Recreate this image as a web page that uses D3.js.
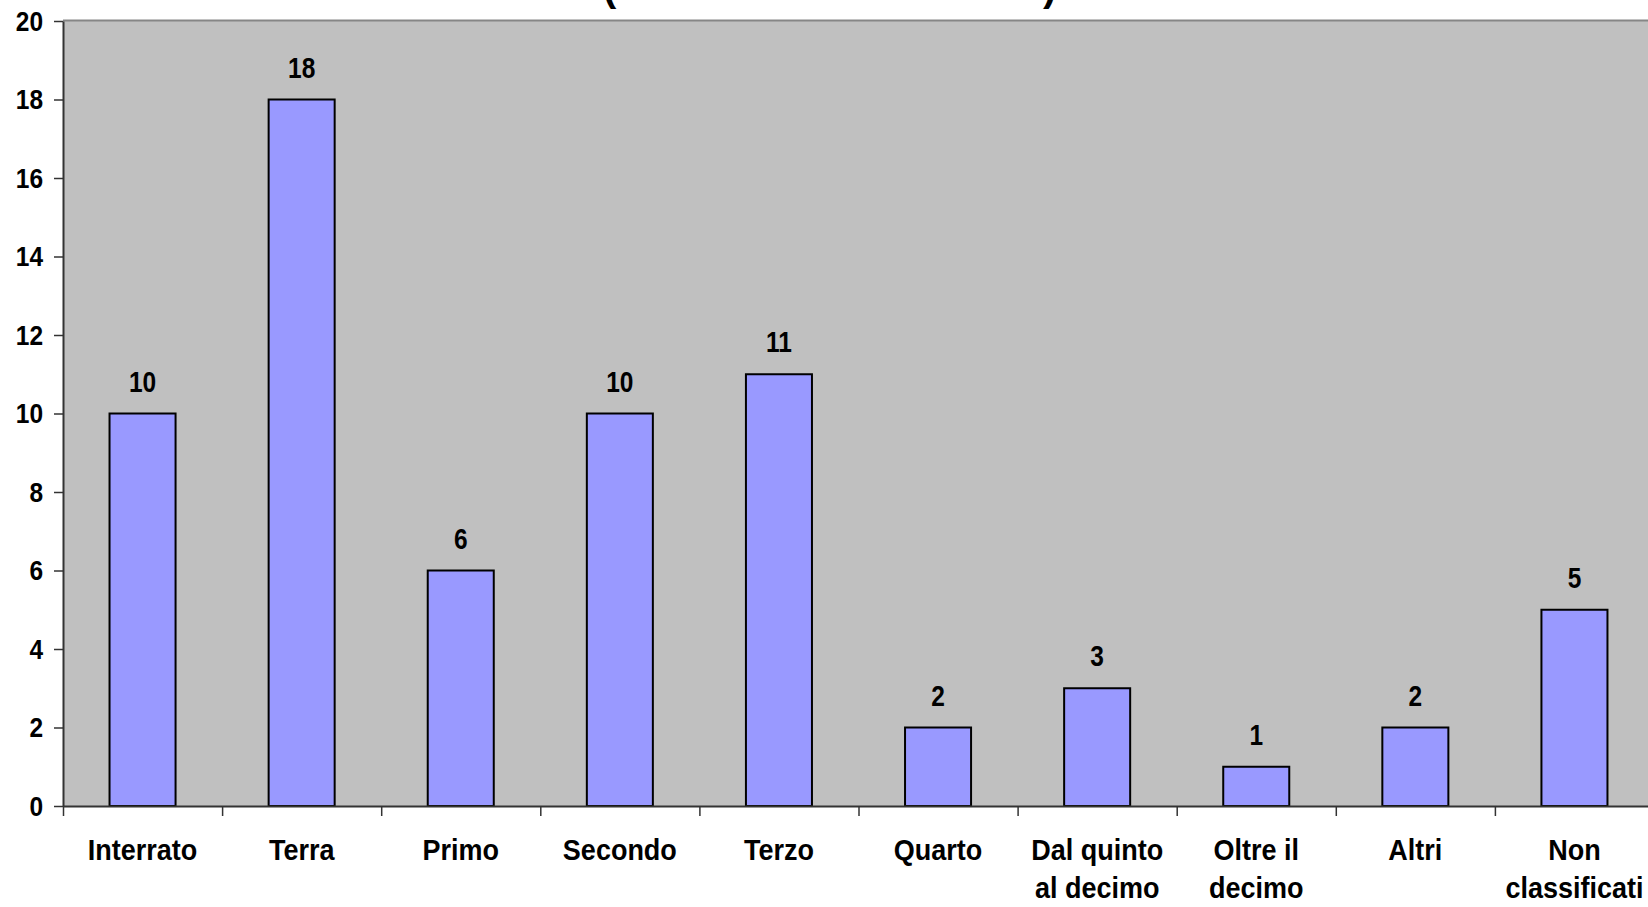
<!DOCTYPE html>
<html>
<head>
<meta charset="utf-8">
<script src="https://cdn.jsdelivr.net/npm/d3@7"></script>
<style>
  html, body { margin: 0; padding: 0; background: #fff; }
  svg { display: block; font-family: "Liberation Sans", Arial, sans-serif; }
</style>
</head>
<body>
<svg id="chart" width="1648" height="907"></svg>
<script>
// ---- data ----
const categories = ["Interrato", "Terra", "Primo", "Secondo", "Terzo", "Quarto",
  "Dal quinto\nal decimo", "Oltre il\ndecimo", "Altri", "Non\nclassificati"];
const values = [10, 18, 6, 10, 11, 2, 3, 1, 2, 5];
const yTicks = [0, 2, 4, 6, 8, 10, 12, 14, 16, 18, 20];

// ---- layout ----
const W = 1648, H = 907;
const plot = { left: 63, top: 21, bottom: 806, right: 1654 };

const svg = d3.select("#chart");

const x = d3.scaleBand().domain(categories).range([plot.left, plot.right]).padding(0);
const xEdge = d3.scaleLinear().domain([0, categories.length]).range([plot.left, plot.right]);
const y = d3.scaleLinear().domain([0, 20]).range([plot.bottom, plot.top]);

// plot background
svg.append("rect")
  .attr("x", plot.left).attr("y", plot.top)
  .attr("width", W - plot.left + 10).attr("height", plot.bottom - plot.top)
  .attr("fill", "#c0c0c0");
// top border
svg.append("line")
  .attr("x1", plot.left).attr("x2", W)
  .attr("y1", plot.top - 0.5).attr("y2", plot.top - 0.5)
  .attr("stroke", "#868686").attr("stroke-width", 2);

// partially visible title (cut off at the top of the picture, as in the reference)
svg.append("text").attr("x", 603).attr("y", 1)
  .attr("font-size", 40).attr("font-weight", "bold").text("(");
svg.append("text").attr("x", 1043).attr("y", 1)
  .attr("font-size", 40).attr("font-weight", "bold").text(")");

// bars
const barFrac = 0.415;
svg.append("g").selectAll("rect").data(values).join("rect")
  .attr("x", (d, i) => x(categories[i]) + x.bandwidth() * (1 - barFrac) / 2)
  .attr("width", x.bandwidth() * barFrac)
  .attr("y", d => y(d))
  .attr("height", d => y(0) - y(d))
  .attr("fill", "#9999ff")
  .attr("stroke", "#000")
  .attr("stroke-width", 2);

// data labels
svg.append("g").selectAll("text").data(values).join("text")
  .attr("transform", (d, i) => `translate(${x(categories[i]) + x.bandwidth() / 2},${y(d) - 22}) scale(1,1.18)`)
  .attr("text-anchor", "middle")
  .attr("font-size", 24.5).attr("font-weight", "bold").attr("fill", "#000")
  .text(d => d);

// y axis
const yAxis = svg.append("g")
  .attr("transform", `translate(${plot.left},0)`)
  .call(d3.axisLeft(y).tickValues(yTicks).tickSize(9).tickPadding(11).tickSizeOuter(0));
yAxis.select(".domain").attr("stroke", "#333").attr("stroke-width", 2);
yAxis.selectAll(".tick line").attr("stroke", "#333").attr("stroke-width", 1.5);
yAxis.selectAll(".tick text")
  .attr("font-size", 24.5).attr("font-weight", "bold").attr("fill", "#000")
  .attr("font-family", "Liberation Sans, Arial, sans-serif")
  .attr("transform", "scale(1,1.15)");

// x axis (ticks at category boundaries)
const xAxis = svg.append("g")
  .attr("transform", `translate(0,${plot.bottom})`)
  .call(d3.axisBottom(xEdge).tickValues(d3.range(categories.length + 1)).tickSize(10).tickFormat("").tickSizeOuter(0));
xAxis.select(".domain").attr("stroke", "#333").attr("stroke-width", 2);
xAxis.selectAll(".tick line").attr("stroke", "#333").attr("stroke-width", 1.5);

// category labels
const catG = svg.append("g").selectAll("text").data(categories).join("text")
  .attr("transform", d => `translate(${x(d) + x.bandwidth() / 2},860) scale(1,1.08)`)
  .attr("text-anchor", "middle")
  .attr("font-size", 27).attr("font-weight", "bold").attr("fill", "#000");
catG.selectAll("tspan").data(d => d.split("\n")).join("tspan")
  .attr("x", 0).attr("dy", (d, i) => i === 0 ? 0 : 35.5)
  .text(d => d);
</script>
</body>
</html>
